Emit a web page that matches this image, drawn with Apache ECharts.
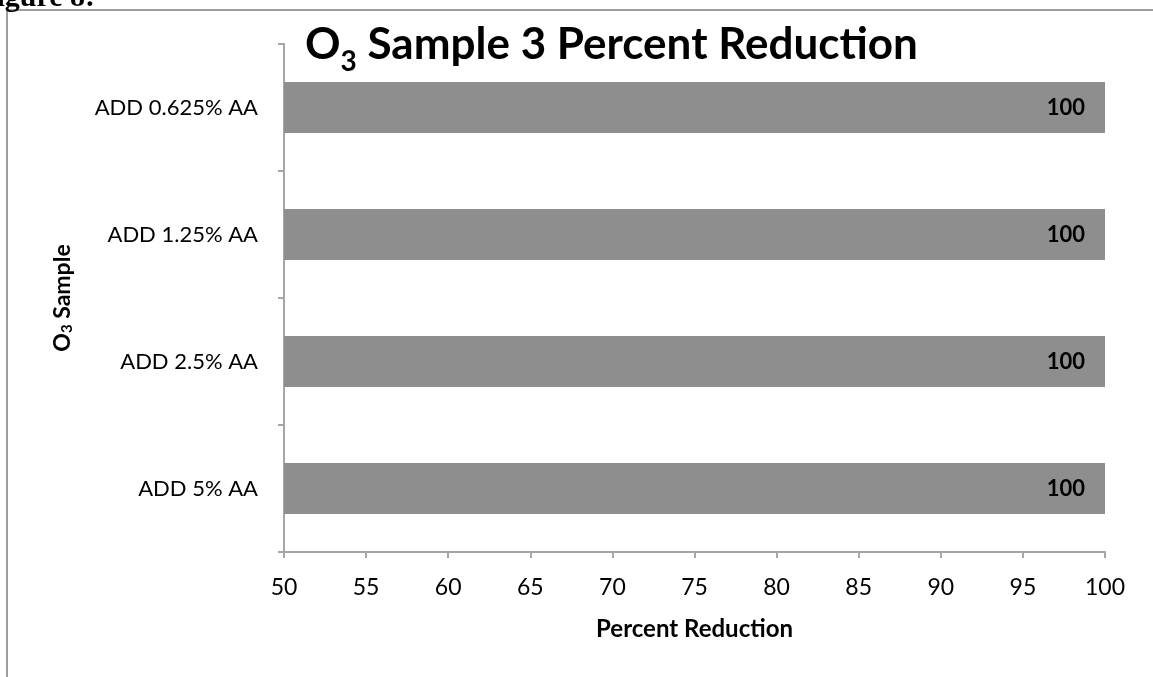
<!DOCTYPE html>
<html><head><meta charset="utf-8">
<script src="https://cdn.jsdelivr.net/npm/echarts@6/dist/echarts.min.js"></script>
<style>html,body{margin:0;padding:0;background:#fff}#c{width:1153px;height:677px}</style>
</head><body><div id="c"></div>
<script>
const categories = ['ADD 5% AA', 'ADD 2.5% AA', 'ADD 1.25% AA', 'ADD 0.625% AA'];
const values = [100, 100, 100, 100];
const xTicks = { min: 50, max: 100, interval: 5 };

const FONT = 'Lato';
const chart = echarts.init(document.getElementById('c'), null, { renderer: 'canvas' });
chart.setOption({
  backgroundColor: '#fff',
  animation: false,
  textStyle: { fontFamily: FONT },
  graphic: [
    { type: 'rect', shape: { x: 7, y: 10, width: 1200, height: 720 }, style: { fill: 'none', stroke: '#9e9e9e', lineWidth: 2 }, silent: true },
    { type: 'text', x: 95, y: 13, style: { text: 'Figure 8:', font: 'bold 30px "Liberation Serif"', fill: '#000', textAlign: 'right', textVerticalAlign: 'bottom' } },
    { type: 'text', left: 305, top: 23, style: {
        text: '{b|O}{s|3}{b| Sample 3 Percent Reduction}',
        rich: {
          b: { fontFamily: FONT, fontWeight: 'bold', fontSize: 44, fill: '#000', color: '#000', verticalAlign: 'bottom', lineHeight: 50 },
          s: { fontFamily: FONT, fontWeight: 'bold', fontSize: 28, fill: '#000', color: '#000', verticalAlign: 'bottom', lineHeight: 50, padding: [0, 0, -9, 0] }
        }
      } }
  ],
  grid: { left: 284, right: 48, top: 44, bottom: 125, containLabel: false },
  xAxis: {
    type: 'value', min: xTicks.min, max: xTicks.max, interval: xTicks.interval,
    name: 'Percent Reduction', nameLocation: 'middle', nameGap: 65,
    nameTextStyle: { fontFamily: FONT, fontWeight: 'bold', fontSize: 24, color: '#000' },
    axisLine: { show: true, lineStyle: { color: '#a6a6a6', width: 2 } },
    axisTick: { show: true, length: 6, lineStyle: { color: '#a6a6a6', width: 2 } },
    axisLabel: { fontFamily: FONT, fontSize: 23, color: '#000', margin: 24 },
    splitLine: { show: false }
  },
  yAxis: {
    type: 'category', data: categories,
    name: '{b|O}{s|3}{b| Sample}', nameLocation: 'middle', nameGap: 210, nameRotate: 90,
    nameTextStyle: { rich: {
      b: { fontFamily: FONT, fontWeight: 'bold', fontSize: 23, color: '#000' },
      s: { fontFamily: FONT, fontWeight: 'bold', fontSize: 15, color: '#000', padding: [0, 0, -10, 0] }
    } },
    axisLine: { show: true, lineStyle: { color: '#a6a6a6', width: 2 } },
    axisTick: { show: true, length: 6, lineStyle: { color: '#a6a6a6', width: 2 } },
    axisLabel: { fontFamily: FONT, fontSize: 22, color: '#000', margin: 26 },
    splitLine: { show: false }
  },
  series: [{
    type: 'bar', data: values, barCategoryGap: '60%',
    itemStyle: { color: '#8e8e8e' },
    label: { show: true, position: 'insideRight', distance: 20, fontFamily: FONT, fontWeight: 'bold', fontSize: 22, color: '#000' }
  }]
});
</script></body></html>
